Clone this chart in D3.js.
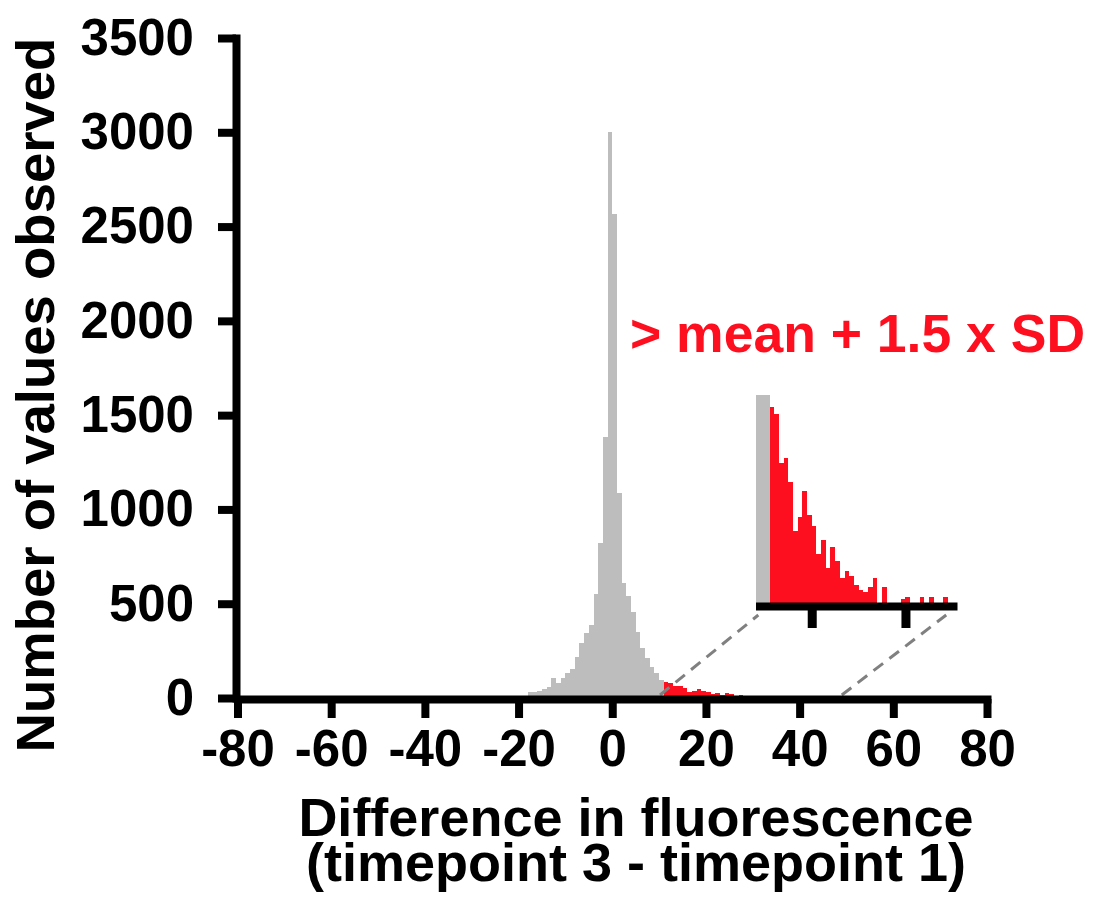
<!DOCTYPE html>
<html>
<head>
<meta charset="utf-8">
<script src="https://cdn.jsdelivr.net/npm/d3@7"></script>
<style>
  body { margin: 0; background: #fff; }
  svg { display: block; font-family: "Liberation Sans", Arial, Helvetica, sans-serif; font-weight: bold; }
</style>
</head>
<body>
<script>
// histogram bins, each 1 unit wide, keyed by bin start
const binStart = [-18, -17, -16, -15, -14, -13, -12, -11, -10, -9, -8, -7, -6, -5, -4, -3, -2, -1,
  0, 1, 2, 3, 4, 5, 6, 7, 8, 9, 10, 11, 12, 13, 14, 15, 16, 17, 18, 19, 20, 21, 22, 23, 24, 25,
  26, 27, 28, 29, 30, 31, 32, 33, 34, 35, 36, 37, 38, 39, 40, 41, 42, 43, 44, 45, 46, 47, 48, 49, 50];
const counts = [30, 33, 37, 46, 57, 104, 78, 104, 134, 152, 219, 293, 346, 387, 552, 824, 1383, 3000,
  2565, 1086, 608, 540, 458, 352, 263, 210, 166, 131, 95, 85, 82, 61, 63, 53, 32, 38, 49, 39, 34, 22,
  28, 16, 25, 19, 12, 15, 13, 9, 7, 6, 8, 12, 0, 8, 0, 0, 0, 3, 4, 0, 0, 4, 0, 4, 0, 0, 4, 0, 0];
const threshold = 11;          // mean + 1.5 x SD
const xTicks = [-80, -60, -40, -20, 0, 20, 40, 60, 80];
const yTicks = [0, 500, 1000, 1500, 2000, 2500, 3000, 3500];
const insetTicks = [20, 40];
const insetDomain = [8, 51];
const insetMax = 90;

const data = binStart.map((s, i) => ({s, n: counts[i]}));

const width = 1093, height = 897;
const grey = "#bdbdbd", red = "#fe0f1f";

const x = d3.scaleLinear([-80, 80], [237.5, 987]);
const y = d3.scaleLinear([0, 3500], [698, 38]);

const xi = d3.scaleLinear(insetDomain, [755.5, 957]);
const yi = d3.scaleLinear([0, insetMax], [606, 395]).clamp(true);

const svg = d3.select("body").append("svg")
    .attr("width", width)
    .attr("height", height)
    .attr("viewBox", [0, 0, width, height]);

// main histogram
svg.append("g")
  .selectAll("rect")
  .data(data.filter(d => d.n > 0))
  .join("rect")
    .attr("x", d => x(d.s))
    .attr("width", d => x(d.s + 1) - x(d.s))
    .attr("y", d => y(d.n))
    .attr("height", d => y(0) - y(d.n))
    .attr("fill", d => d.s >= threshold ? red : grey)
    .attr("shape-rendering", "crispEdges");

// zoom guide lines
const guides = [[10.2, 8.6], [49, 48.7]];
svg.append("g")
    .attr("stroke", "#808080")
    .attr("stroke-width", 3)
    .attr("stroke-dasharray", "12 8")
  .selectAll("line")
  .data(guides)
  .join("line")
    .attr("x1", d => x(d[0]))
    .attr("y1", 695)
    .attr("x2", d => xi(d[1]))
    .attr("y2", 615);

const plain = d => String(d);

function styleAxis(g) {
  g.select(".domain").attr("stroke-width", 8).attr("stroke-linecap", "square");
  g.selectAll(".tick line").attr("stroke-width", 8);
  g.selectAll(".tick text").attr("font-size", 51).attr("fill", "#000");
  g.attr("font-family", null).attr("font-size", null);
}

svg.append("g")
    .attr("transform", "translate(0,699)")
    .call(d3.axisBottom(x).tickValues(xTicks).tickFormat(plain).tickSize(19).tickSizeOuter(0).tickPadding(12))
    .call(styleAxis);

svg.append("g")
    .attr("transform", "translate(236,0)")
    .call(d3.axisLeft(y).tickValues(yTicks).tickFormat(plain).tickSize(18).tickSizeOuter(0).tickPadding(24))
    .call(styleAxis);

// inset
svg.append("g")
  .selectAll("rect")
  .data(data.filter(d => d.n > 0 && d.s >= insetDomain[0] && d.s < insetDomain[1]))
  .join("rect")
    .attr("x", d => xi(d.s))
    .attr("width", d => xi(d.s + 1) - xi(d.s))
    .attr("y", d => yi(d.n))
    .attr("height", d => yi(0) - yi(d.n))
    .attr("fill", d => d.s >= threshold ? red : grey)
    .attr("shape-rendering", "crispEdges");

svg.append("g")
    .attr("transform", "translate(0,606)")
    .call(d3.axisBottom(xi).tickValues(insetTicks).tickSize(22).tickSizeOuter(0).tickFormat(""))
    .call(g => g.select(".domain").attr("stroke-width", 8))
    .call(g => g.selectAll(".tick line").attr("stroke-width", 9));

// titles
svg.append("text")
    .attr("x", 636)
    .attr("y", 836)
    .attr("text-anchor", "middle")
    .attr("font-size", 54)
    .text("Difference in fluorescence");

svg.append("text")
    .attr("x", 636)
    .attr("y", 881)
    .attr("text-anchor", "middle")
    .attr("font-size", 54)
    .text("(timepoint 3 - timepoint 1)");

svg.append("text")
    .attr("transform", "translate(54,395) rotate(-90)")
    .attr("text-anchor", "middle")
    .attr("font-size", 54.5)
    .text("Number of values observed");

svg.append("text")
    .attr("x", 630)
    .attr("y", 352)
    .attr("font-size", 53.5)
    .attr("fill", red)
    .text("> mean + 1.5 x SD");
</script>
</body>
</html>
